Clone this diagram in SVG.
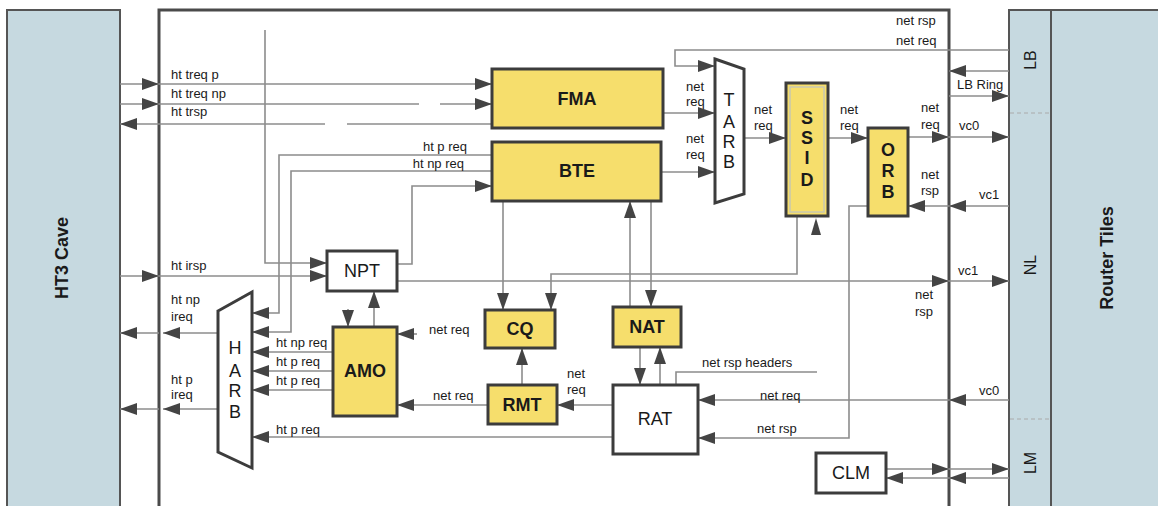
<svg xmlns="http://www.w3.org/2000/svg" width="1158" height="506" viewBox="0 0 1158 506">
<style>
.w{fill:none;stroke:#8c8c8c;stroke-width:1.6}
.wall{fill:none;stroke:#4a4a4a;stroke-width:3}
.y{fill:#f6de6c;stroke:#3c3c3c;stroke-width:3}
.wb{fill:#fff;stroke:#3c3c3c;stroke-width:3}
.bl{fill:#c6d9e0;stroke:#555;stroke-width:2}
.t{font-family:"Liberation Sans",Arial,sans-serif;font-size:13px;fill:#1a1a1a}
.e{text-anchor:end}
.b{font-family:"Liberation Sans",Arial,sans-serif;font-size:18px;font-weight:bold;fill:#1a1a1a;text-anchor:middle}
.n{font-family:"Liberation Sans",Arial,sans-serif;font-size:18px;fill:#1a1a1a;text-anchor:middle}
.r{font-family:"Liberation Sans",Arial,sans-serif;font-size:16px;fill:#1a1a1a;text-anchor:middle}
.dash{stroke:#aaa;stroke-width:1;stroke-dasharray:4 3}
</style>
<defs>
<marker id="a" markerWidth="17" markerHeight="12" refX="17" refY="6" orient="auto" markerUnits="userSpaceOnUse"><path d="M0,0 L17,6 L0,12 z" fill="#444"/></marker>
</defs>
<rect width="1158" height="506" fill="#fff"/>

<g id="ht3cave">
<rect class="bl" x="7" y="10" width="113" height="510"/>
<text class="b" transform="translate(62,258) rotate(-90)" y="6">HT3 Cave</text>
</g>

<g id="router">
<rect class="bl" x="1009" y="10" width="160" height="510"/>
<line x1="1051" y1="10" x2="1051" y2="506" stroke="#555" stroke-width="2"/>
<line class="dash" x1="1010" y1="113" x2="1050" y2="113"/>
<line class="dash" x1="1010" y1="419" x2="1050" y2="419"/>
<text class="r" transform="translate(1030,60) rotate(-90)" y="6">LB</text>
<text class="r" transform="translate(1030,265) rotate(-90)" y="6">NL</text>
<text class="r" transform="translate(1030,463) rotate(-90)" y="6">LM</text>
<text class="b" transform="translate(1107,258) rotate(-90)" y="6">Router Tiles</text>
</g>

<g id="mainbox">
<rect class="wall" x="159" y="10" width="790" height="520"/>
</g>

<g id="connectors">
<line class="w" x1="120" y1="84" x2="159" y2="84" marker-end="url(#a)"/>
<line class="w" x1="159" y1="84" x2="492" y2="84" marker-end="url(#a)"/>
<line class="w" x1="120" y1="104" x2="159" y2="104" marker-end="url(#a)"/>
<line class="w" x1="159" y1="104" x2="419" y2="104"/>
<line class="w" x1="440" y1="104" x2="492" y2="104" marker-end="url(#a)"/>
<line class="w" x1="492" y1="124" x2="347" y2="124"/>
<line class="w" x1="325" y1="124" x2="120" y2="124" marker-end="url(#a)"/>
<path class="w" d="M265,30 V263 H327" marker-end="url(#a)"/>
<path class="w" d="M492,155 H279 V313 H252" marker-end="url(#a)"/>
<path class="w" d="M492,171 H291 V332 H252" marker-end="url(#a)"/>
<path class="w" d="M397,264 H412 V186 H492" marker-end="url(#a)"/>
<line class="w" x1="120" y1="276" x2="159" y2="276" marker-end="url(#a)"/>
<line class="w" x1="159" y1="276" x2="327" y2="276" marker-end="url(#a)"/>
<line class="w" x1="397" y1="281" x2="949" y2="281" marker-end="url(#a)"/>
<line class="w" x1="949" y1="281" x2="1009" y2="281" marker-end="url(#a)"/>
<line class="w" x1="374" y1="327" x2="374" y2="291" marker-end="url(#a)"/>
<line class="w" x1="348" y1="309" x2="348" y2="327" marker-end="url(#a)"/>
<line class="w" x1="333" y1="352" x2="252" y2="352" marker-end="url(#a)"/>
<line class="w" x1="333" y1="371" x2="252" y2="371" marker-end="url(#a)"/>
<line class="w" x1="333" y1="390" x2="252" y2="390" marker-end="url(#a)"/>
<line class="w" x1="218" y1="333" x2="163" y2="333" marker-end="url(#a)"/>
<line class="w" x1="159" y1="333" x2="120" y2="333" marker-end="url(#a)"/>
<line class="w" x1="218" y1="409" x2="163" y2="409" marker-end="url(#a)"/>
<line class="w" x1="159" y1="409" x2="120" y2="409" marker-end="url(#a)"/>
<line class="w" x1="613" y1="437" x2="252" y2="437" marker-end="url(#a)"/>
<line class="w" x1="503" y1="201" x2="503" y2="310" marker-end="url(#a)"/>
<path class="w" d="M797,216 V274 H551 V310" marker-end="url(#a)"/>
<line class="w" x1="630" y1="307" x2="630" y2="201" marker-end="url(#a)"/>
<line class="w" x1="651" y1="201" x2="651" y2="307" marker-end="url(#a)"/>
<line class="w" x1="640" y1="347" x2="640" y2="385" marker-end="url(#a)"/>
<line class="w" x1="660" y1="385" x2="660" y2="347" marker-end="url(#a)"/>
<path class="w" d="M676,385 V372 H817"/>
<line class="w" x1="1009" y1="400" x2="949" y2="400" marker-end="url(#a)"/>
<line class="w" x1="949" y1="400" x2="698" y2="400" marker-end="url(#a)"/>
<path class="w" d="M868,206 H849 V438 H698" marker-end="url(#a)"/>
<line class="w" x1="522" y1="385" x2="522" y2="348" marker-end="url(#a)"/>
<line class="w" x1="613" y1="405" x2="557" y2="405" marker-end="url(#a)"/>
<line class="w" x1="488" y1="405" x2="397" y2="405" marker-end="url(#a)"/>
<line class="w" x1="417" y1="334" x2="397" y2="334" marker-end="url(#a)"/>
<path d="M811,235 L816,218 L821,235 z" fill="#444"/>
<line class="w" x1="663" y1="113" x2="715" y2="113" marker-end="url(#a)"/>
<line class="w" x1="661" y1="172" x2="715" y2="172" marker-end="url(#a)"/>
<path class="w" d="M1009,50 H675 V66 H715" marker-end="url(#a)"/>
<line class="w" x1="744" y1="138" x2="786" y2="138" marker-end="url(#a)"/>
<line class="w" x1="828" y1="138" x2="868" y2="138" marker-end="url(#a)"/>
<line class="w" x1="908" y1="137" x2="949" y2="137" marker-end="url(#a)"/>
<line class="w" x1="949" y1="137" x2="1009" y2="137" marker-end="url(#a)"/>
<line class="w" x1="1009" y1="206" x2="949" y2="206" marker-end="url(#a)"/>
<line class="w" x1="949" y1="206" x2="908" y2="206" marker-end="url(#a)"/>
<line class="w" x1="1009" y1="71" x2="949" y2="71" marker-end="url(#a)"/>
<line class="w" x1="949" y1="96" x2="1009" y2="96" marker-end="url(#a)"/>
<line class="w" x1="886" y1="469" x2="949" y2="469" marker-end="url(#a)"/>
<line class="w" x1="949" y1="469" x2="1009" y2="469" marker-end="url(#a)"/>
<line class="w" x1="1009" y1="478" x2="949" y2="478" marker-end="url(#a)"/>
<line class="w" x1="949" y1="478" x2="886" y2="478" marker-end="url(#a)"/>
<text class="t" x="171" y="79">ht treq p</text>
<text class="t" x="171" y="98">ht treq np</text>
<text class="t" x="171" y="116">ht trsp</text>
<text class="t e" x="467" y="151">ht p req</text>
<text class="t e" x="464" y="168">ht np req</text>
<text class="t" x="171" y="270">ht irsp</text>
<text class="t" x="171" y="304">ht np</text>
<text class="t" x="171" y="321">ireq</text>
<text class="t" x="171" y="384">ht p</text>
<text class="t" x="171" y="399">ireq</text>
<text class="t" x="276" y="347">ht np req</text>
<text class="t" x="276" y="366">ht p req</text>
<text class="t" x="276" y="385">ht p req</text>
<text class="t" x="276" y="434">ht p req</text>
<text class="t" x="429" y="334">net req</text>
<text class="t" x="433" y="400">net req</text>
<text class="t" x="567" y="378">net</text>
<text class="t" x="567" y="394">req</text>
<text class="t" x="702" y="367">net rsp headers</text>
<text class="t" x="760" y="400">net req</text>
<text class="t" x="757" y="433">net rsp</text>
<text class="t" x="979" y="395">vc0</text>
<text class="t" x="979" y="199">vc1</text>
<text class="t" x="921" y="179">net</text>
<text class="t" x="921" y="195">rsp</text>
<text class="t" x="958" y="275">vc1</text>
<text class="t" x="915" y="299">net</text>
<text class="t" x="915" y="316">rsp</text>
<text class="t" x="896" y="25">net rsp</text>
<text class="t" x="896" y="45">net req</text>
<text class="t" x="957" y="89">LB Ring</text>
<text class="t" x="921" y="112">net</text>
<text class="t" x="921" y="129">req</text>
<text class="t" x="959" y="130">vc0</text>
<text class="t" x="686" y="91">net</text>
<text class="t" x="686" y="106">req</text>
<text class="t" x="686" y="143">net</text>
<text class="t" x="686" y="159">req</text>
<text class="t" x="754" y="114">net</text>
<text class="t" x="754" y="130">req</text>
<text class="t" x="840" y="114">net</text>
<text class="t" x="840" y="130">req</text>
</g>

<g id="FMA"><rect class="y" x="492" y="69" width="171" height="59"/><text class="b" x="577" y="105">FMA</text></g>
<g id="BTE"><rect class="y" x="492" y="142" width="169" height="59"/><text class="b" x="577" y="177">BTE</text></g>
<g id="TARB"><polygon class="wb" points="715,59 744,69 744,194 715,203"/>
<text class="n" x="729" y="106">T</text><text class="n" x="729" y="128">A</text><text class="n" x="729" y="148">R</text><text class="n" x="729" y="168">B</text></g>
<g id="SSID"><rect class="y" x="786" y="83" width="42" height="133"/><rect x="790" y="87" width="34" height="125" fill="none" stroke="#c8c8b0" stroke-width="1.5"/>
<text class="b" x="807" y="124">S</text><text class="b" x="807" y="144">S</text><text class="b" x="807" y="164">I</text><text class="b" x="807" y="186">D</text></g>
<g id="ORB"><rect class="y" x="868" y="128" width="40" height="88"/>
<text class="b" x="888" y="156">O</text><text class="b" x="888" y="177">R</text><text class="b" x="888" y="198">B</text></g>
<g id="NPT"><rect class="wb" x="327" y="251" width="70" height="40"/><text class="n" x="362" y="277">NPT</text></g>
<g id="AMO"><rect class="y" x="333" y="327" width="64" height="89"/><text class="b" x="365" y="377">AMO</text></g>
<g id="HARB"><polygon class="wb" points="218,311 252,292 252,468 218,452"/>
<text class="n" x="235" y="354">H</text><text class="n" x="235" y="377">A</text><text class="n" x="235" y="397">R</text><text class="n" x="235" y="418">B</text></g>
<g id="CQ"><rect class="y" x="485" y="310" width="70" height="38"/><text class="b" x="520" y="335">CQ</text></g>
<g id="NAT"><rect class="y" x="613" y="307" width="68" height="40"/><text class="b" x="647" y="333">NAT</text></g>
<g id="RMT"><rect class="y" x="488" y="385" width="69" height="39"/><text class="b" x="522" y="411">RMT</text></g>
<g id="RAT"><rect class="wb" x="613" y="385" width="85" height="69"/><text class="n" x="655" y="425">RAT</text></g>
<g id="CLM"><rect class="wb" x="816" y="453" width="70" height="40"/><text class="n" x="851" y="479">CLM</text></g>
</svg>
